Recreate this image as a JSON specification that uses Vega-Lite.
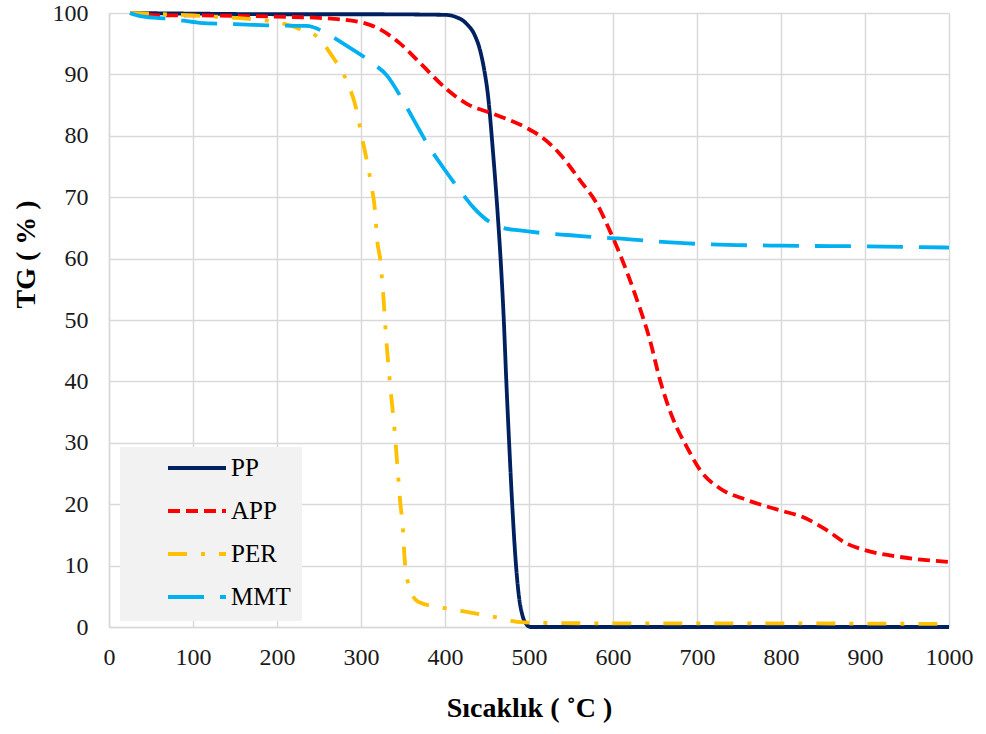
{
  "$schema": "https://vega.github.io/schema/vega-lite/v6.json",
  "width": 840,
  "height": 614,
  "autosize": {"type": "none"},
  "padding": {"left": 109, "top": 13, "right": 37, "bottom": 107},
  "background": "white",
  "config": {
    "view": {"stroke": null},
    "font": "Liberation Serif",
    "axis": {
      "labelFont": "Liberation Serif",
      "titleFont": "Liberation Serif",
      "labelFontSize": 24,
      "labelColor": "#1a1a1a",
      "titleFontSize": 28,
      "titleFontWeight": "bold",
      "titleColor": "#000000",
      "gridColor": "#D9D9D9",
      "gridWidth": 1.5,
      "domainColor": "#D9D9D9",
      "domainWidth": 1.5,
      "ticks": false,
      "labelFlush": false,
      "labelOverlap": false
    },
    "legend": {
      "labelFont": "Liberation Serif",
      "labelFontSize": 25,
      "labelColor": "#000000"
    }
  },
  "data": {
    "values": [
      {"s": "PP", "t": 25, "w": 100},
      {"s": "PP", "t": 100, "w": 99.9},
      {"s": "PP", "t": 200, "w": 99.8},
      {"s": "PP", "t": 300, "w": 99.8},
      {"s": "PP", "t": 400, "w": 99.7},
      {"s": "PP", "t": 412, "w": 99.4},
      {"s": "PP", "t": 426, "w": 98.2},
      {"s": "PP", "t": 435, "w": 96.5},
      {"s": "PP", "t": 442, "w": 93.8},
      {"s": "PP", "t": 447, "w": 90.5},
      {"s": "PP", "t": 451, "w": 86.8},
      {"s": "PP", "t": 457, "w": 77.6},
      {"s": "PP", "t": 463, "w": 66.7},
      {"s": "PP", "t": 467, "w": 58},
      {"s": "PP", "t": 470, "w": 50},
      {"s": "PP", "t": 473, "w": 40},
      {"s": "PP", "t": 476, "w": 31},
      {"s": "PP", "t": 480, "w": 20},
      {"s": "PP", "t": 484, "w": 11},
      {"s": "PP", "t": 488, "w": 5},
      {"s": "PP", "t": 492, "w": 2},
      {"s": "PP", "t": 496, "w": 0.6},
      {"s": "PP", "t": 502, "w": 0},
      {"s": "PP", "t": 600, "w": 0},
      {"s": "PP", "t": 700, "w": 0},
      {"s": "PP", "t": 800, "w": 0},
      {"s": "PP", "t": 900, "w": 0},
      {"s": "PP", "t": 1000, "w": 0},
      {"s": "APP", "t": 25, "w": 100},
      {"s": "APP", "t": 70, "w": 99.6},
      {"s": "APP", "t": 100, "w": 99.6},
      {"s": "APP", "t": 200, "w": 99.4},
      {"s": "APP", "t": 250, "w": 99.2},
      {"s": "APP", "t": 300, "w": 98.5},
      {"s": "APP", "t": 319, "w": 97.6},
      {"s": "APP", "t": 346, "w": 95.1},
      {"s": "APP", "t": 370, "w": 91.9},
      {"s": "APP", "t": 402, "w": 87.6},
      {"s": "APP", "t": 426, "w": 85.2},
      {"s": "APP", "t": 457, "w": 83.6},
      {"s": "APP", "t": 497, "w": 81.3},
      {"s": "APP", "t": 513, "w": 80},
      {"s": "APP", "t": 537, "w": 77},
      {"s": "APP", "t": 561, "w": 72.7},
      {"s": "APP", "t": 581, "w": 68.9},
      {"s": "APP", "t": 596, "w": 64.6},
      {"s": "APP", "t": 608, "w": 60.8},
      {"s": "APP", "t": 628, "w": 53.5},
      {"s": "APP", "t": 644, "w": 46.7},
      {"s": "APP", "t": 656, "w": 40.2},
      {"s": "APP", "t": 672, "w": 33.7},
      {"s": "APP", "t": 688, "w": 29.3},
      {"s": "APP", "t": 704, "w": 25.5},
      {"s": "APP", "t": 727, "w": 22.6},
      {"s": "APP", "t": 759, "w": 20.7},
      {"s": "APP", "t": 799, "w": 19},
      {"s": "APP", "t": 826, "w": 17.9},
      {"s": "APP", "t": 854, "w": 15.8},
      {"s": "APP", "t": 878, "w": 13.6},
      {"s": "APP", "t": 898, "w": 12.6},
      {"s": "APP", "t": 942, "w": 11.4},
      {"s": "APP", "t": 1000, "w": 10.6},
      {"s": "PER", "t": 25, "w": 100},
      {"s": "PER", "t": 100, "w": 99.6},
      {"s": "PER", "t": 150, "w": 99.2},
      {"s": "PER", "t": 200, "w": 98.5},
      {"s": "PER", "t": 227, "w": 97.4},
      {"s": "PER", "t": 249, "w": 96},
      {"s": "PER", "t": 267, "w": 92.7},
      {"s": "PER", "t": 283, "w": 88.9},
      {"s": "PER", "t": 295, "w": 84},
      {"s": "PER", "t": 300, "w": 80.5},
      {"s": "PER", "t": 307, "w": 75.9},
      {"s": "PER", "t": 312, "w": 72.2},
      {"s": "PER", "t": 317, "w": 67.3},
      {"s": "PER", "t": 319, "w": 63.4},
      {"s": "PER", "t": 323, "w": 59.7},
      {"s": "PER", "t": 326, "w": 55.1},
      {"s": "PER", "t": 330, "w": 47},
      {"s": "PER", "t": 335, "w": 39},
      {"s": "PER", "t": 340, "w": 32},
      {"s": "PER", "t": 344, "w": 25},
      {"s": "PER", "t": 346.5, "w": 20.6},
      {"s": "PER", "t": 350, "w": 15.8},
      {"s": "PER", "t": 351.5, "w": 12},
      {"s": "PER", "t": 356, "w": 7.2},
      {"s": "PER", "t": 368, "w": 4.1},
      {"s": "PER", "t": 398, "w": 3.1},
      {"s": "PER", "t": 429, "w": 2.4},
      {"s": "PER", "t": 460, "w": 1.6},
      {"s": "PER", "t": 489, "w": 0.8},
      {"s": "PER", "t": 521, "w": 0.65},
      {"s": "PER", "t": 600, "w": 0.6},
      {"s": "PER", "t": 700, "w": 0.6},
      {"s": "PER", "t": 800, "w": 0.6},
      {"s": "PER", "t": 900, "w": 0.55},
      {"s": "PER", "t": 1000, "w": 0.5},
      {"s": "MMT", "t": 25, "w": 100},
      {"s": "MMT", "t": 37, "w": 99.5},
      {"s": "MMT", "t": 76, "w": 99},
      {"s": "MMT", "t": 108, "w": 98.4},
      {"s": "MMT", "t": 150, "w": 98.2},
      {"s": "MMT", "t": 188, "w": 98},
      {"s": "MMT", "t": 235, "w": 97.9},
      {"s": "MMT", "t": 259, "w": 96.7},
      {"s": "MMT", "t": 279, "w": 95},
      {"s": "MMT", "t": 313, "w": 91.9},
      {"s": "MMT", "t": 331, "w": 89.8},
      {"s": "MMT", "t": 350, "w": 85.7},
      {"s": "MMT", "t": 362, "w": 82.8},
      {"s": "MMT", "t": 382, "w": 78},
      {"s": "MMT", "t": 398, "w": 74.8},
      {"s": "MMT", "t": 420, "w": 70.7},
      {"s": "MMT", "t": 434, "w": 68.3},
      {"s": "MMT", "t": 454, "w": 65.9},
      {"s": "MMT", "t": 469, "w": 65},
      {"s": "MMT", "t": 489, "w": 64.6},
      {"s": "MMT", "t": 513, "w": 64.2},
      {"s": "MMT", "t": 550, "w": 63.8},
      {"s": "MMT", "t": 588, "w": 63.4},
      {"s": "MMT", "t": 605, "w": 63.3},
      {"s": "MMT", "t": 652, "w": 62.8},
      {"s": "MMT", "t": 700, "w": 62.4},
      {"s": "MMT", "t": 800, "w": 62.1},
      {"s": "MMT", "t": 900, "w": 62},
      {"s": "MMT", "t": 1000, "w": 61.8}
    ]
  },
  "mark": {"type": "line", "strokeWidth": 3.8, "strokeCap": "butt", "interpolate": "monotone"},
  "encoding": {
    "x": {
      "field": "t", "type": "quantitative",
      "scale": {"domain": [0, 1000], "nice": false},
      "axis": {
        "values": [0, 100, 200, 300, 400, 500, 600, 700, 800, 900, 1000],
        "format": "d",
        "labelFont": "Liberation Serif",
        "labelFontSize": 24,
        "labelFlush": false,
        "labelOverlap": false,
        "labelPadding": 18,
        "title": "Sıcaklık ( ˚C )",
        "titleY": 89,
        "titleBaseline": "alphabetic"
      }
    },
    "y": {
      "field": "w", "type": "quantitative",
      "scale": {"domain": [0, 100], "nice": false},
      "axis": {
        "values": [0, 10, 20, 30, 40, 50, 60, 70, 80, 90, 100],
        "format": "d",
        "labelFont": "Liberation Serif",
        "labelFontSize": 24,
        "labelOverlap": false,
        "labelPadding": 21,
        "title": "TG ( % )",
        "titleX": -75,
        "titleY": 241,
        "titleAngle": -90,
        "titleAlign": "center",
        "titleBaseline": "alphabetic"
      }
    },
    "color": {
      "field": "s", "type": "nominal",
      "scale": {"domain": ["PP", "APP", "PER", "MMT"], "range": ["#002060", "#FF0000", "#FFC000", "#00B0F0"]},
      "legend": {
        "title": null,
        "orient": "none",
        "legendX": 11,
        "legendY": 434,
        "fillColor": "#F2F2F2",
        "padding": 11,
        "symbolType": "stroke",
        "symbolSize": 3364,
        "symbolStrokeWidth": 4,
        "symbolOffset": 35,
        "labelOffset": 3,
        "labelExpr": "datum.label == 'MMT' ? '\u00a0MMT' : datum.label",
        "labelFont": "Liberation Serif",
        "labelFontSize": 25,
        "clipHeight": 20,
        "rowPadding": 18
      }
    },
    "strokeDash": {
      "field": "s", "type": "nominal",
      "scale": {"domain": ["PP", "APP", "PER", "MMT"], "range": [[1, 0], [12, 6], [19, 14, 4, 14], [36, 16]]},
      "legend": {
        "title": null,
        "orient": "none",
        "legendX": 11,
        "legendY": 434,
        "fillColor": "#F2F2F2",
        "padding": 11,
        "symbolType": "stroke",
        "symbolSize": 3364,
        "symbolStrokeWidth": 4,
        "symbolOffset": 35,
        "labelOffset": 3,
        "labelExpr": "datum.label == 'MMT' ? '\u00a0MMT' : datum.label",
        "labelFont": "Liberation Serif",
        "labelFontSize": 25,
        "clipHeight": 20,
        "rowPadding": 18
      }
    }
  }
}
